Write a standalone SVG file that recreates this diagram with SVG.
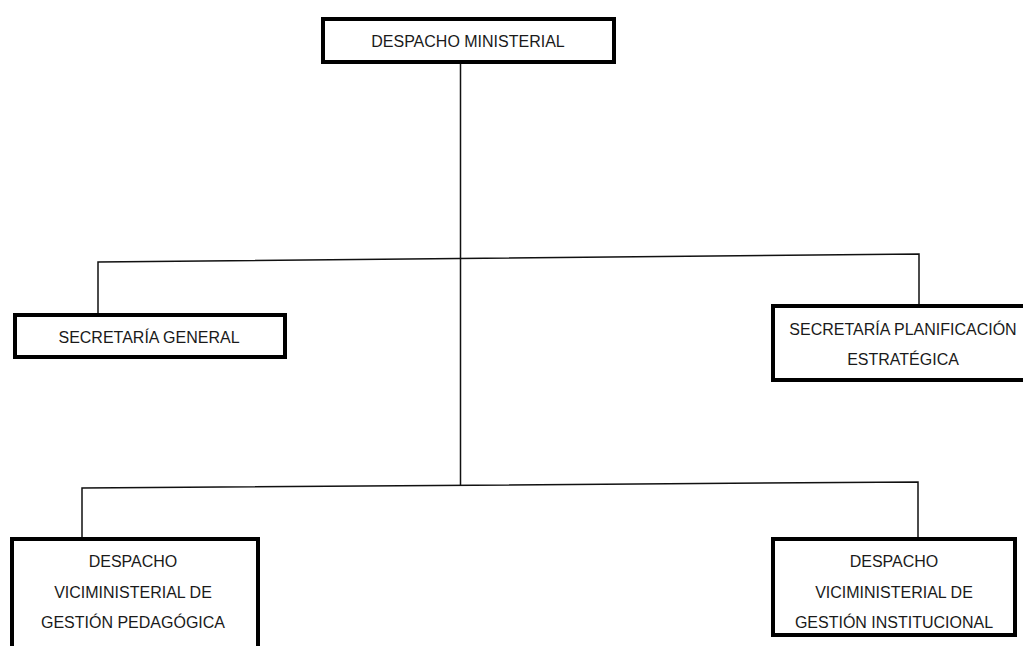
<svg xmlns="http://www.w3.org/2000/svg" width="1023" height="646" viewBox="0 0 1023 646">
<style>
.box{fill:#fff;stroke:#000;stroke-width:4}
.t{font-family:"Liberation Sans",Arial,sans-serif;font-size:16px;fill:#1a1a1a;text-anchor:middle}
.c{fill:none;stroke:#111;stroke-width:1.5}
</style>
<rect width="1023" height="646" fill="#fff"/>
<g id="connectors">
<line class="c" x1="460.5" y1="62" x2="460.5" y2="486"/>
<polyline class="c" points="98,314 98,262 919,254 919,305"/>
<polyline class="c" points="82,538 82,488 918,482 918,538"/>
</g>
<g id="despacho-ministerial">
<rect class="box" x="323" y="19" width="291" height="43"/>
<text class="t" x="468" y="47">DESPACHO MINISTERIAL</text>
</g>
<g id="secretaria-general">
<rect class="box" x="15" y="315" width="270" height="42"/>
<text class="t" x="149" y="343">SECRETARÍA GENERAL</text>
</g>
<g id="secretaria-planificacion">
<rect class="box" x="773" y="306" width="260" height="74"/>
<text class="t" x="903" y="335">SECRETARÍA PLANIFICACIÓN</text>
<text class="t" x="903" y="365">ESTRATÉGICA</text>
</g>
<g id="vice-pedagogica">
<rect class="box" x="12" y="539" width="246" height="120"/>
<text class="t" x="133" y="567">DESPACHO</text>
<text class="t" x="133" y="598">VICIMINISTERIAL DE</text>
<text class="t" x="133" y="628">GESTIÓN PEDAGÓGICA</text>
</g>
<g id="vice-institucional">
<rect class="box" x="773" y="539" width="242" height="96"/>
<text class="t" x="894" y="567">DESPACHO</text>
<text class="t" x="894" y="598">VICIMINISTERIAL DE</text>
<text class="t" x="894" y="628">GESTIÓN INSTITUCIONAL</text>
</g>
</svg>
